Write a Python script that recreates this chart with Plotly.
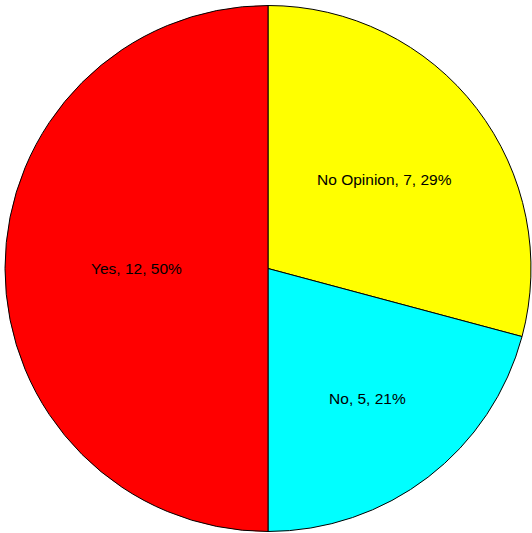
import plotly.graph_objects as go

labels = ["No Opinion", "No", "Yes"]
values = [7, 5, 12]
colors = ["#ffff00", "#00ffff", "#ff0000"]

fig = go.Figure(go.Pie(
    labels=labels,
    values=values,
    sort=False,
    direction="clockwise",
    rotation=0,
    marker=dict(colors=colors, line=dict(color="black", width=1)),
    texttemplate="%{label}, %{value}, %{percent:.0%}",
    textposition="inside",
    insidetextorientation="horizontal",
    textfont=dict(family="Liberation Sans, Arial", size=15.5, color="black"),
    hoverinfo="label+value+percent",
))
fig.update_layout(
    width=532, height=533,
    margin=dict(l=5, r=1, t=5, b=1),
    showlegend=False,
    paper_bgcolor="white",
    plot_bgcolor="white",
)
fig.write_html(
    "out.html",
    config={"displayModeBar": False},
    post_script="document.body.style.margin='0';document.body.style.padding='0';",
)
